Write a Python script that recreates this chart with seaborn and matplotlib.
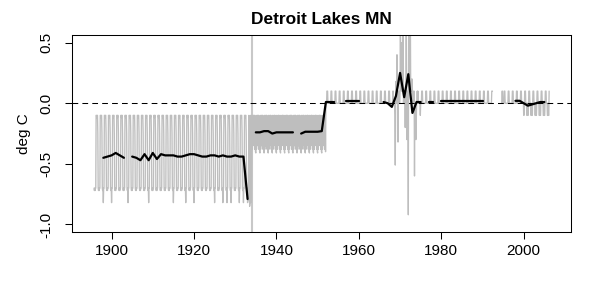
import numpy as np
import pandas as pd
import matplotlib
matplotlib.use("Agg")
import matplotlib.pyplot as plt
import seaborn as sns

# ---------------- data ----------------
title = "Detroit Lakes MN"
ylabel = "deg C"
xticks = [1900, 1920, 1940, 1960, 1980, 2000]
yticks = [-1.0, -0.5, 0.0, 0.5]
break_year = 1934  # vertical reference line

nan = np.nan
# annual mean adjustment (black line), NaN = missing year
annual_years = list(range(1898, 2006))
annual_vals = [
    -0.45, -0.44, -0.43, -0.41, -0.43, -0.45, nan, -0.44, -0.45, -0.47,   # 1898-1907
    -0.42, -0.47, -0.41, -0.46, -0.42, -0.43, -0.43, -0.43, -0.44, -0.44,  # 1908-1917
    -0.43, -0.42, -0.42, -0.43, -0.44, -0.44, -0.43, -0.43, -0.44, -0.43,  # 1918-1927
    -0.44, -0.44, -0.43, -0.44, -0.44, -0.79, nan, -0.24, -0.24, -0.23,    # 1928-1937
    -0.23, -0.25, -0.24, -0.24, -0.24, -0.24, -0.24, nan, -0.25, -0.235,   # 1938-1947
    -0.235, -0.235, -0.235, -0.23, 0.01, 0.01, 0.01, nan, nan, 0.02,       # 1948-1957
    0.02, 0.02, 0.02, nan, nan, nan, nan, nan, 0.01, 0.0,                  # 1958-1967
    -0.03, 0.06, 0.25, 0.05, 0.24, -0.08, 0.01, 0.01, nan, 0.01,           # 1968-1977
    0.01, nan, 0.02, 0.02, 0.02, 0.02, 0.02, 0.02, 0.02, 0.02,             # 1978-1987
    0.02, 0.02, 0.02, nan, nan, nan, nan, nan, nan, nan,                   # 1988-1997
    0.02, 0.02, 0.0, -0.02, -0.01, 0.0, 0.01, 0.01,                        # 1998-2005
]

# monthly adjustment profiles (gray line), read per period
profile_early = [-0.72, -0.70, -0.70, -0.10, -0.10, -0.12, -0.10, -0.10, -0.25, -0.70, -0.72, -0.70]
profile_mid = [-0.41, -0.10, -0.38, -0.12, -0.35, -0.10, -0.10, -0.30, -0.10, -0.38, -0.12, -0.40]
profile_flat = [0.0, 0.0, 0.0, 0.1, 0.1, 0.1, 0.0, 0.0, 0.0, 0.0, 0.0, 0.0]
profile_late = [-0.1, -0.1, 0.0, 0.1, 0.1, 0.1, 0.0, 0.0, 0.0, -0.1, -0.1, 0.0]
deep_years = [1898, 1900, 1904, 1909, 1915, 1918, 1920, 1925, 1927, 1928, 1929, 1931, 1932]
deep_jan = -0.82

gray_periods = [
    (1896, 1932, "early"),
    (1934, 1951, "mid"),
    (1952, 1967, "flat"),
    (1975, 1991, "flat"),
    (1995, 1999, "flat"),
    (2000, 2005, "late"),
]
gray_year_values = {
    1895: [nan] * 9 + [-0.70, -0.72, -0.70],
    1933: [-0.82, -0.80, -0.80, -0.45, -0.10, -0.12, -0.85, -0.82, -0.80, -0.10, -0.82, -0.80],
    1968: [0.0, 0.0, 0.0, 0.1, 0.1, 0.0, 0.0, 0.0, 0.0, -0.1, -0.51, 0.0],
    1969: [0.18, 0.0, 0.1, 0.4, 0.1, 0.1, -0.32, 0.1, 0.0, 0.1, 0.0, 0.0],
    1970: [0.1, 0.7, 0.2, 0.5, 0.1, 0.3, 0.2, 0.1, 0.1, 0.7, 0.0, 0.1],
    1971: [0.1, 0.0, 0.1, -0.2, 0.1, 0.0, 0.7, 0.1, -0.3, 0.1, 0.0, 0.0],
    1972: [-0.92, 0.7, 0.6, 0.3, 0.2, 0.6, 0.7, 0.1, 0.1, 0.1, 0.2, 0.2],
    1973: [0.1, 0.0, 0.1, 0.0, 0.0, 0.1, -0.6, 0.0, -0.2, 0.0, -0.3, -0.2],
    1974: [0.0, 0.0, 0.1, 0.0, 0.1, 0.0, 0.0, 0.0, 0.0, 0.0, 0.0, -0.1],
    1992: [0.0, 0.0, 0.0, 0.1, 0.1, 0.1, nan, nan, nan, nan, nan, nan],
    1993: [nan] * 12,
    1994: [nan] * 8 + [0.0, 0.1, 0.1, 0.0],
    2006: [-0.1, -0.1, 0.1] + [nan] * 9,
}

# ---------------- build tables ----------------
profiles = {"early": profile_early, "mid": profile_mid, "flat": profile_flat, "late": profile_late}
monthly = {}
for y0, y1, name in gray_periods:
    for y in range(y0, y1 + 1):
        vals = list(profiles[name])
        if y in deep_years:
            vals[0] = deep_jan
        monthly[y] = vals
monthly.update(gray_year_values)
g_t, g_v = [], []
for y in sorted(monthly):
    for m, v in enumerate(monthly[y]):
        g_t.append(y + m / 12.0)
        g_v.append(v)
gray = pd.DataFrame({"t": g_t, "v": g_v})
gray["seg"] = gray["v"].isna().cumsum()
gray = gray.dropna()

ann = pd.DataFrame({"t": annual_years, "v": annual_vals})
ann["seg"] = ann["v"].isna().cumsum()
ann = ann.dropna()

# ---------------- plot ----------------
sns.set_theme(style="ticks")
plt.rcParams["font.family"] = ["Liberation Sans", "DejaVu Sans"]
plt.rcParams["axes.unicode_minus"] = False

fig = plt.figure(figsize=(5.89, 2.87), dpi=100)
ax = fig.add_axes([72 / 589, 1 - 231.5 / 287, (570.7 - 72) / 589, (231.5 - 35) / 287])
ax.set_facecolor("white")
fig.patch.set_facecolor("white")

sns.lineplot(data=gray, x="t", y="v", units="seg", estimator=None, sort=False,
             color="#bebebe", linewidth=0.95, ax=ax)
ax.axvline(break_year, color="#c8c8c8", linewidth=1.5, zorder=1)
ax.axhline(0.0, color="black", linewidth=0.75, linestyle=(0, (5.5, 4)), zorder=2)
sns.lineplot(data=ann, x="t", y="v", units="seg", estimator=None, sort=False,
             color="black", linewidth=1.6, ax=ax, zorder=3)

ax.set_xlim(1890.4, 2011.4)
ax.set_ylim(-1.058, 0.563)
ax.set_xticks(xticks)
ax.set_xticklabels([str(x) for x in xticks])
ax.set_yticks(yticks)
ax.set_yticklabels([f"{v:.1f}" for v in yticks], rotation=90, va="center")
ax.tick_params(axis="both", direction="out", length=5.2, width=0.75, color="black",
               labelsize=11, labelcolor="black")
ax.tick_params(axis="x", pad=3.5)
ax.tick_params(axis="y", pad=8.5)
for s in ax.spines.values():
    s.set_visible(True)
    s.set_color("black")
    s.set_linewidth(0.75)
ax.set_xlabel("")
ax.set_ylabel(ylabel, fontsize=11, color="black", labelpad=6)
ax.set_title(title, fontsize=12.4, fontweight="bold", color="black", pad=8)
ax.grid(False)

fig.savefig("out.png", dpi=100, facecolor="white")
